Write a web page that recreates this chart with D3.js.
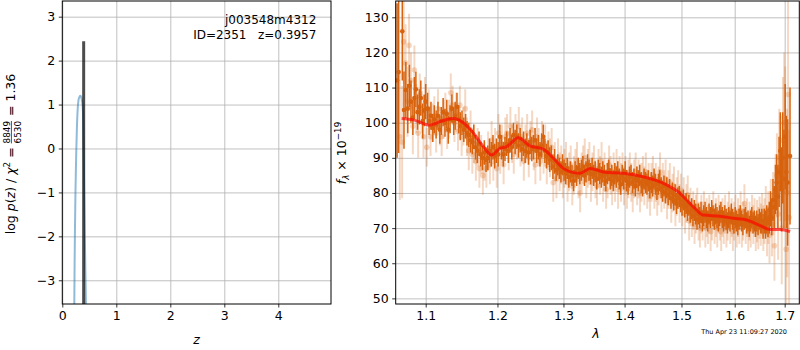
<!DOCTYPE html>
<html>
<head>
<meta charset="utf-8">
<script src="https://cdn.jsdelivr.net/npm/d3@7"></script>
<style>
body { margin: 0; background: #fff; }
svg text { font-family: "DejaVu Sans", sans-serif; }
.grid line { stroke: #b0b0b0; stroke-width: 0.8; }
.grid path { display: none; }
.axis path { display: none; }
.axis line { stroke: #000; stroke-width: 0.8; }
</style>
</head>
<body>
<svg id="fig" width="800" height="350"></svg>
<script>
// ---- redshift probability panel ----
const zGrid = [0.215, 0.222, 0.228, 0.235, 0.245, 0.258, 0.270, 0.285, 0.300, 0.320, 0.335, 0.350, 0.365, 0.378, 0.388, 0.397, 0.405, 0.413, 0.421, 0.429, 0.437, 0.445];
const logPz = [-4.5, -3.6, -2.6, -1.8, -0.9, -0.1, 0.45, 0.9, 1.1, 1.18, 1.2, 1.17, 1.08, 0.95, 0.6, -0.1, -0.9, -1.6, -2.3, -2.9, -3.5, -4.3];
const zBest = 0.3957;
const zBestPeak = 2.44;
const zTicks = [0, 1, 2, 3, 4];
const pzTicks = [-3, -2, -1, 0, 1, 2, 3];

// ---- spectrum panel ----
const waveTicks = [1.1, 1.2, 1.3, 1.4, 1.5, 1.6, 1.7];
const fluxTicks = [50, 60, 70, 80, 90, 100, 110, 120, 130];

// [wavelength (um), flux, error]
const beamDark = [
[1.0625,112,22],[1.0645,114.4,23],[1.0692,126,14],[1.0714,103.6,11],[1.0738,109.3,8],[1.0763,104,7],[1.0785,110.5,6],[1.0805,106,6],
[1.0830,101.5,5],[1.0850,107,6],[1.0870,109.5,5],[1.0892,103,5],[1.0915,104.5,5],[1.0935,107,5],[1.0960,100.5,5],[1.0980,103.5,4.5],
[1.1000,106,5],[1.1025,104,4.5],[1.1045,100.5,4],[1.1070,102,4],[1.1095,98.5,4],[1.1115,101,4],[1.1140,99.5,4],[1.1165,102,4],
[1.1190,98,4],[1.1210,100.5,4],[1.1235,103,4],[1.1260,100,4],[1.1285,102.5,4],[1.1305,98,4],[1.1330,101,4],[1.1355,104,4],
[1.1380,100.5,4],[1.1400,102,4],[1.1425,104.5,4],[1.1450,101,4],[1.1470,99,4],[1.1495,100,3.5],[1.1520,98,3.5],[1.1545,99,3.5],
[1.1565,97,3.5],[1.1590,96.5,3.5],[1.1615,95,3.5],[1.1640,94.5,3.5],[1.1660,96,3.5],[1.1685,93,3.5],[1.1710,92,3.5],[1.1735,94,3.5],
[1.1760,91,3.5],[1.1785,90,3.5],[1.1810,91.5,3.5],[1.1835,89.5,3.5],[1.1860,90,3.5],[1.1885,92,3.5],[1.1910,91,3.5],[1.1935,93,3.5],
[1.1960,90.5,3.5],[1.1985,92,3.5],[1.2010,91,3.5],[1.2035,96,3.5],[1.2060,93,3.5],[1.2085,91,3.5],[1.2110,92.5,3.5],[1.2135,94,3.5],
[1.2160,92,3.5],[1.2185,95,3.5],[1.2210,93,3.5],[1.2235,96.5,3.5],[1.2260,94.5,3.5],[1.2285,96,3.5],[1.2310,93.5,3.5],[1.2335,95,3.5],
[1.2360,92.5,3.5],[1.2385,94,3.5],[1.2410,92,3.5],[1.2435,93.5,3.5],[1.2460,91.5,3.5],[1.2485,94.5,3.5],[1.2510,92.5,3.5],[1.2535,93,3.5],
[1.2560,95,3.5],[1.2585,92,3.5],[1.2610,93,3.5],[1.2635,91,3.5],[1.2660,93.5,3.5],[1.2685,96,3.5],[1.2710,92,3.5],[1.2735,90.5,3.5],
[1.2760,91.5,3.5],[1.2785,89.5,3.5],[1.2810,90,3.5],[1.2835,87.5,3.5],[1.2860,89,3.5],[1.2885,86.5,3],[1.2910,88,3],[1.2935,87,3],
[1.2960,86,3],[1.2985,88,3],[1.3010,86.5,3],[1.3035,85.5,3],[1.3060,87,3],[1.3085,84.5,3],[1.3110,86,3],[1.3135,85,3],
[1.3160,83.5,3],[1.3185,86,3],[1.3210,85,3],[1.3235,87,3],[1.3260,85.5,3],[1.3285,86.5,3],[1.3310,87.5,3],[1.3335,85,3],
[1.3360,86,3],[1.3385,88,3],[1.3410,86.5,3],[1.3435,85.5,3],[1.3460,87,3],[1.3485,85,3],[1.3510,86,3],[1.3535,84,3],
[1.3560,86.5,3],[1.3585,85.5,3],[1.3610,84.5,3],[1.3635,86,3],[1.3660,85,3],[1.3685,83.5,3],[1.3710,85.5,3],[1.3735,86.5,3],
[1.3760,84,3],[1.3785,85,3],[1.3810,83.5,3],[1.3835,85.5,3],[1.3860,84.5,3],[1.3885,86,3],[1.3910,84,3],[1.3935,82.5,3],
[1.3960,85,3],[1.3985,84,3],[1.4010,86,3],[1.4035,83.5,3],[1.4060,82.5,3],[1.4085,84.5,3],[1.4110,85,3],[1.4135,83,3],
[1.4160,84,3],[1.4185,82,3],[1.4210,84.5,3],[1.4235,83.5,3],[1.4260,85,3],[1.4285,83,3],[1.4310,82,3],[1.4335,84,3],
[1.4360,83,3],[1.4385,82.5,3],[1.4410,83.5,3],[1.4435,81.5,3],[1.4460,83,3],[1.4485,82,3],[1.4510,84,3],[1.4535,82.5,3],
[1.4560,81,3],[1.4585,82.5,3],[1.4610,83.5,3],[1.4635,81.5,3],[1.4660,80.5,3],[1.4685,82,3],[1.4710,80,3],[1.4735,81.5,3],
[1.4760,79.5,3],[1.4785,81,3],[1.4810,78.5,3],[1.4835,80,3],[1.4860,78,3],[1.4885,79.5,3],[1.4910,77,3],[1.4935,78.5,3],
[1.4960,79,3],[1.4985,77.5,3],[1.5010,76.5,3],[1.5035,78,3],[1.5060,76,3],[1.5085,77,3],[1.5110,75,3],[1.5135,76.5,3],
[1.5160,74.5,3],[1.5185,75.5,3],[1.5210,73.5,3],[1.5235,75,3],[1.5260,74,3],[1.5285,72.5,3],[1.5310,74,3],[1.5335,73,3],
[1.5360,74.5,3],[1.5385,72,3],[1.5410,73.5,3],[1.5435,74.5,3],[1.5460,73,3],[1.5485,72,3],[1.5510,74,3],[1.5535,73,3],
[1.5560,75,3],[1.5585,73.5,3],[1.5610,72.5,3],[1.5635,74,3],[1.5660,73,3],[1.5685,72,3],[1.5710,73.5,3],[1.5735,74.5,3],
[1.5760,73,3],[1.5785,72,3],[1.5810,73.5,3],[1.5835,72.5,3],[1.5860,71.5,3],[1.5885,73,3],[1.5910,72,3],[1.5935,74,3],
[1.5960,72.5,3],[1.5985,71.5,3],[1.6010,73,3],[1.6035,72,3],[1.6060,71,3],[1.6085,72.5,3],[1.6110,73.5,3],[1.6135,72,3],
[1.6160,71,3],[1.6185,72.5,3],[1.6210,73,3],[1.6235,71.5,3],[1.6260,72,3],[1.6285,70.5,3],[1.6310,72,3],[1.6335,73,3],
[1.6360,71.5,3],[1.6385,72,3],[1.6410,70.5,3],[1.6435,72,3],[1.6460,71,3],[1.6485,72.5,3],[1.6510,71.5,3],[1.6535,72,3.5],
[1.6560,70.5,3.5],[1.6585,72,3.5],[1.6610,71,4],[1.6635,72.5,4],[1.6660,71.5,4],[1.6685,73,4.5],[1.6710,75.5,5],[1.6735,73,5],
[1.6760,78,6],[1.6785,76,6],[1.6810,81,7],[1.6835,83,8],[1.6860,79,9],[1.6885,86,10],[1.6910,92,11],[1.6935,81,12],
[1.6960,90,13],[1.6985,84,14],[1.7010,96,15],[1.7035,86,16],[1.7060,83,18],[1.7110,90.5,19.5]
];

const beamLight = [
[1.0660,96,18],[1.0690,94.5,16],[1.0710,123,12],[1.0735,117,11],[1.0760,106,10],[1.0780,122,9],[1.0805,112,8],[1.0830,99,8],
[1.0850,115,7],[1.0875,104,7],[1.0900,97,7],[1.0920,108,6],[1.0945,103,6],[1.0970,96,6],[1.0990,107,6],[1.1015,93,5.5],
[1.1040,104,5.5],[1.1065,96,5.5],[1.1090,100,5.5],[1.1115,102,5.5],[1.1140,97,5.5],[1.1165,104,5.5],[1.1190,99,5.5],[1.1215,96,5.5],
[1.1240,101,5.5],[1.1265,103,5.5],[1.1290,98,5.5],[1.1315,101,5.5],[1.1340,108.5,5.5],[1.1365,105,5.5],[1.1390,100,5.5],[1.1415,103,5.5],
[1.1440,97.5,5.5],[1.1465,105,5.5],[1.1490,96,5.5],[1.1515,99,5.5],[1.1540,104,5.5],[1.1565,96,5.5],[1.1590,92,5.5],[1.1615,98,5.5],
[1.1640,91,5.5],[1.1665,94,5.5],[1.1690,89,5.5],[1.1715,93,5.5],[1.1740,87,5.5],[1.1765,91,5.5],[1.1790,85,5.5],[1.1815,89,5.5],
[1.1840,87,5.5],[1.1865,92,5.5],[1.1890,88,5.5],[1.1915,95,5.5],[1.1940,89,5.5],[1.1965,93,5.5],[1.1990,87,5.5],[1.2015,97,5.5],
[1.2040,91,5.5],[1.2065,94,5.5],[1.2090,88,5.5],[1.2115,96,5.5],[1.2140,97,5.5],[1.2165,92,5.5],[1.2190,99,5.5],[1.2215,94,5.5],
[1.2240,91,5.5],[1.2265,97,5.5],[1.2290,95,5.5],[1.2315,99,5.5],[1.2340,93,5.5],[1.2365,96,5.5],[1.2390,89,5.5],[1.2415,94,5.5],
[1.2440,97,5.5],[1.2465,90,5.5],[1.2490,95,5.5],[1.2515,98,5.5],[1.2540,92,5.5],[1.2565,88,5.5],[1.2590,96,5.5],[1.2615,93,5.5],
[1.2640,89,5.5],[1.2665,95,5.5],[1.2690,91,5.5],[1.2715,94,5.5],[1.2740,88,5.5],[1.2765,92,5.5],[1.2790,90,5.5],[1.2815,93,5.5],
[1.2840,83,5.5],[1.2865,89,5.5],[1.2890,84,5.5],[1.2915,90,5.5],[1.2940,86,5.5],[1.2965,88,5.5],[1.2990,84,5.5],[1.3015,87,5.5],
[1.3040,89,5.5],[1.3065,83,5.5],[1.3090,86,5.5],[1.3115,88,5.5],[1.3140,82,5.5],[1.3165,85,5.5],[1.3190,87,5.5],[1.3215,89,5.5],
[1.3240,84,5.5],[1.3265,80,5.5],[1.3290,86,5.5],[1.3315,88,5.5],[1.3340,90,5.5],[1.3365,84,5.5],[1.3390,87,5.5],[1.3415,89,5.5],
[1.3440,83,5.5],[1.3465,86,5.5],[1.3490,88,5.5],[1.3515,84,5.5],[1.3540,82,5.5],[1.3565,87,5.5],[1.3590,85,5.5],[1.3615,89,5.5],
[1.3640,83,5.5],[1.3665,86,5.5],[1.3690,81,5.5],[1.3715,84,5.5],[1.3740,88,5.5],[1.3765,85,5.5],[1.3790,82,5.5],[1.3815,86,5.5],
[1.3840,83,5.5],[1.3865,87,5.5],[1.3890,81,5.5],[1.3915,85,5.5],[1.3940,83,5.5],[1.3965,86,5.5],[1.3990,82,5.5],[1.4015,85,5.5],
[1.4040,81,5.5],[1.4065,84,5.5],[1.4090,86,5.5],[1.4115,83,5.5],[1.4140,80,5.5],[1.4165,84,5.5],[1.4190,86,5.5],[1.4215,82,5.5],
[1.4240,84,5.5],[1.4265,80,5.5],[1.4290,83,5.5],[1.4315,85,5.5],[1.4340,82,5.5],[1.4365,86,5.5],[1.4390,81,5.5],[1.4415,83,5.5],
[1.4440,79,5.5],[1.4465,83,5.5],[1.4490,85,5.5],[1.4515,81,5.5],[1.4540,83,5.5],[1.4565,79,5.5],[1.4590,82,5.5],[1.4615,86,5.5],
[1.4640,80,5.5],[1.4665,83,5.5],[1.4690,81,5.5],[1.4715,84,5.5],[1.4740,78,5.5],[1.4765,81,5.5],[1.4790,83,5.5],[1.4815,77,5.5],
[1.4840,80,5.5],[1.4865,82,5.5],[1.4890,76,5.5],[1.4915,79,5.5],[1.4940,81,5.5],[1.4965,77,5.5],[1.4990,80,5.5],[1.5015,76,5.5],
[1.5040,79,5.5],[1.5065,74,5.5],[1.5090,77,5.5],[1.5115,79.5,5.5],[1.5140,72,5.5],[1.5165,76,5.5],[1.5190,73,5.5],[1.5215,75,5.5],
[1.5240,71,5.5],[1.5265,74,5.5],[1.5290,76,5.5],[1.5315,72,5.5],[1.5340,70,5.5],[1.5365,74,5.5],[1.5390,72,5.5],[1.5415,75,5.5],
[1.5440,70,5.5],[1.5465,73,5.5],[1.5490,71,5.5],[1.5515,74,5.5],[1.5540,69,5.5],[1.5565,72,5.5],[1.5590,75,5.5],[1.5615,71,5.5],
[1.5640,73,5.5],[1.5665,70,5.5],[1.5690,74,5.5],[1.5715,72,5.5],[1.5740,69,5.5],[1.5765,73,5.5],[1.5790,71,5.5],[1.5815,74,5.5],
[1.5840,70,5.5],[1.5865,72,5.5],[1.5890,75,5.5],[1.5915,71,5.5],[1.5940,73,5.5],[1.5965,69,5.5],[1.5990,72,5.5],[1.6015,74,5.5],
[1.6040,70,5.5],[1.6065,73,5.5],[1.6090,71,5.5],[1.6115,75,5.5],[1.6140,70,5.5],[1.6165,72,5.5],[1.6190,77,5.5],[1.6215,71,5.5],
[1.6240,73,5.5],[1.6265,69,5.5],[1.6290,72,5.5],[1.6315,70,5.5],[1.6340,74,5.5],[1.6365,71,5.5],[1.6390,73,5.5],[1.6415,69,5.5],
[1.6440,72,6],[1.6465,70,6],[1.6490,73,6],[1.6515,71,6],[1.6540,74,6],[1.6565,70,6.5],[1.6590,72,6.5],[1.6615,75,7],
[1.6640,69,7],[1.6665,73,7.5],[1.6690,68,8],[1.6715,76,8],[1.6740,71,9],[1.6765,77,9],[1.6790,65,10],[1.6815,80,11],
[1.6840,85,12],[1.6865,74,13],[1.6890,90,14],[1.6915,87,15],[1.6940,70,16],[1.6965,95,18],[1.6990,100,20],[1.7010,94,22],
[1.7030,64,20],[1.7050,80,24],[1.7070,108,28],[1.7090,73,25]
];

const modelWave = [1.0684, 1.0836, 1.1058, 1.1192, 1.1375, 1.1514, 1.1654, 1.1797, 1.1917, 1.2037, 1.2136, 1.2308, 1.2483, 1.2686, 1.2841, 1.2998, 1.3156, 1.3263, 1.3425, 1.3643, 1.3979, 1.4322, 1.4556, 1.4734, 1.4943, 1.5096, 1.5249, 1.5403, 1.5719, 1.5975, 1.6237, 1.6501, 1.6702, 1.6906, 1.7113];
const modelFlux = [101.2, 100.8, 99.3, 100.3, 101.2, 100.0, 97.1, 93.2, 90.8, 92.7, 93.2, 95.7, 93.4, 92.5, 89.9, 87.0, 85.8, 85.6, 87.0, 86.0, 85.6, 84.6, 83.5, 82.3, 80.3, 78.0, 75.6, 73.7, 73.4, 72.8, 72.3, 70.7, 69.6, 69.6, 69.0];

const specColor = "#d8630e";
const tickFont = 12.5;

var svg = d3.select("#fig");

// Tick labels: d3 puts font attributes on the axis group, so set them there.
function styleAxis(g) {
    g.attr("class", "axis")
        .attr("font-size", tickFont)
        .attr("font-family", "DejaVu Sans, sans-serif");
    g.selectAll("text").attr("font-size", tickFont).attr("fill", "#000");
}

// ================= left panel =================
var L = {left: 62.3, top: 1, width: 268.7, height: 303};
var zx = d3.scaleLinear().domain([0, 4.976]).range([0, L.width]);
var zy = d3.scaleLinear().domain([-3.54, 3.357]).range([L.height, 0]);

var gl = svg.append("g").attr("transform", "translate(" + L.left + "," + L.top + ")");

gl.append("g").attr("class", "grid")
    .attr("transform", "translate(0," + L.height + ")")
    .call(d3.axisBottom(zx).tickValues(zTicks).tickSize(-L.height).tickFormat(""));
gl.append("g").attr("class", "grid")
    .call(d3.axisLeft(zy).tickValues(pzTicks).tickSize(-L.width).tickFormat(""));

gl.append("clipPath").attr("id", "clip-l")
    .append("rect").attr("width", L.width).attr("height", L.height);

var pzPlot = gl.append("g").attr("clip-path", "url(#clip-l)");

pzPlot.append("path")
    .datum(d3.zip(zGrid, logPz))
    .attr("fill", "none")
    .attr("stroke", "#1f77b4")
    .attr("stroke-opacity", 0.5)
    .attr("stroke-width", 2)
    .attr("d", d3.line().x(d => zx(d[0])).y(d => zy(d[1])).curve(d3.curveMonotoneX));

pzPlot.append("line")
    .attr("x1", zx(zBest)).attr("x2", zx(zBest))
    .attr("y1", zy(zBestPeak)).attr("y2", L.height)
    .attr("stroke", "#000")
    .attr("stroke-opacity", 0.7)
    .attr("stroke-width", 3);

gl.append("g")
    .attr("transform", "translate(0," + L.height + ")")
    .call(d3.axisBottom(zx).tickValues(zTicks).tickSize(3.5).tickPadding(4).tickFormat(d3.format("d")))
    .call(styleAxis);
gl.append("g")
    .call(d3.axisLeft(zy).tickValues(pzTicks).tickSize(3.5).tickPadding(3.5)
        .tickFormat(d => (d < 0 ? "\u2212" + Math.abs(d) : d)))
    .call(styleAxis);

gl.append("rect").attr("width", L.width).attr("height", L.height)
    .attr("fill", "none").attr("stroke", "#000").attr("stroke-width", 1);

gl.append("text").attr("x", 254).attr("y", 23).attr("text-anchor", "end")
    .attr("font-size", 12).text("j003548m4312");
gl.append("text").attr("x", 254).attr("y", 38).attr("text-anchor", "end")
    .attr("font-size", 12).style("white-space", "pre").text("ID=2351   z=0.3957");

// x label
svg.append("text").attr("x", L.left + L.width / 2).attr("y", 343.5)
    .attr("text-anchor", "middle").attr("font-size", 12.5).attr("font-style", "italic").text("z");

// y label with stacked fraction
var yl = svg.append("g");
var t1 = yl.append("text").attr("font-size", 12.5);
t1.append("tspan").text("log ");
t1.append("tspan").attr("font-style", "italic").text("p");
t1.append("tspan").text("(");
t1.append("tspan").attr("font-style", "italic").text("z");
t1.append("tspan").text(") / ");
t1.append("tspan").attr("font-style", "italic").text("\u03c7");
t1.append("tspan").attr("font-size", 8.8).attr("dy", -5).text("2");
t1.append("tspan").attr("dy", 5).style("white-space", "pre").text(" = ");
var w1 = t1.node().getComputedTextLength();
var num = yl.append("text").attr("font-size", 8.8).attr("x", w1).attr("y", -5.5).text("8849");
var fw = num.node().getComputedTextLength();
yl.append("text").attr("font-size", 8.8).attr("x", w1).attr("y", 5.8).text("6530");
yl.append("line").attr("x1", w1).attr("x2", w1 + fw).attr("y1", -3.6).attr("y2", -3.6)
    .attr("stroke", "#000").attr("stroke-width", 0.7);
var t2 = yl.append("text").attr("font-size", 12.5).attr("x", w1 + fw + 1)
    .style("white-space", "pre").text(" = 1.36");
var totalW = w1 + fw + 1 + t2.node().getComputedTextLength();
yl.attr("transform", "translate(15,154) rotate(-90) translate(" + (-totalW / 2) + ",0)");

// ================= right panel =================
var R = {left: 395.7, top: 1, width: 403.6, height: 303};
var wx = d3.scaleLog().domain([1.0607, 1.7304]).range([0, R.width]);
var fy = d3.scaleLinear().domain([48.4, 134.64]).range([R.height, 0]);

var gr = svg.append("g").attr("transform", "translate(" + R.left + "," + R.top + ")");

gr.append("g").attr("class", "grid")
    .attr("transform", "translate(0," + R.height + ")")
    .call(d3.axisBottom(wx).tickValues(waveTicks).tickSize(-R.height).tickFormat(""));
gr.append("g").attr("class", "grid")
    .call(d3.axisLeft(fy).tickValues(fluxTicks).tickSize(-R.width).tickFormat(""));

gr.append("clipPath").attr("id", "clip-r")
    .append("rect").attr("width", R.width).attr("height", R.height);

var spec = gr.append("g").attr("clip-path", "url(#clip-r)");

// Draws one beam as error bars plus circle markers.
function drawBeam(data, opacity, barWidth, radius) {
    var g = spec.append("g").attr("fill", specColor).attr("stroke", specColor);
    g.selectAll("line")
        .data(data)
        .enter()
        .append("line")
        .attr("x1", d => wx(d[0])).attr("x2", d => wx(d[0]))
        .attr("y1", d => fy(d[1] - d[2])).attr("y2", d => fy(d[1] + d[2]))
        .attr("stroke-width", barWidth)
        .attr("stroke-opacity", opacity);
    g.selectAll("circle")
        .data(data)
        .enter()
        .append("circle")
        .attr("cx", d => wx(d[0])).attr("cy", d => fy(d[1]))
        .attr("r", radius)
        .attr("stroke", "none")
        .attr("fill-opacity", opacity);
}

drawBeam(beamDark, 1, 1.5, 2.3);
drawBeam(beamLight, 0.25, 2, 2.8);

spec.append("path")
    .datum(d3.zip(modelWave, modelFlux))
    .attr("fill", "none")
    .attr("stroke", "red")
    .attr("stroke-opacity", 0.65)
    .attr("stroke-width", 3)
    .attr("d", d3.line().x(d => wx(d[0])).y(d => fy(d[1])).curve(d3.curveMonotoneX));

gr.append("g")
    .attr("transform", "translate(0," + R.height + ")")
    .call(d3.axisBottom(wx).tickValues(waveTicks).tickSize(3.5).tickPadding(4).tickFormat(d3.format(".1f")))
    .call(styleAxis);
gr.append("g")
    .call(d3.axisLeft(fy).tickValues(fluxTicks).tickSize(3.5).tickPadding(3.5).tickFormat(d3.format("d")))
    .call(styleAxis);

gr.append("rect").attr("width", R.width).attr("height", R.height)
    .attr("fill", "none").attr("stroke", "#000").attr("stroke-width", 1);

svg.append("text").attr("x", 596).attr("y", 338)
    .attr("text-anchor", "middle").attr("font-size", 12.5).attr("font-style", "italic").text("\u03bb");

var fl = svg.append("text").attr("font-size", 12.5).attr("text-anchor", "middle")
    .attr("transform", "translate(346,153) rotate(-90)");
fl.append("tspan").attr("font-style", "italic").text("f");
fl.append("tspan").attr("font-size", 8.8).attr("dy", 3).attr("font-style", "italic").text("\u03bb");
fl.append("tspan").attr("dy", -3).style("white-space", "pre").text(" \u00d7 10");
fl.append("tspan").attr("font-size", 8.8).attr("dy", -5).text("\u221219");

svg.append("text").attr("x", 787).attr("y", 334).attr("text-anchor", "end")
    .attr("font-size", 6.5).text("Thu Apr 23 11:09:27 2020");
</script>
</body>
</html>
